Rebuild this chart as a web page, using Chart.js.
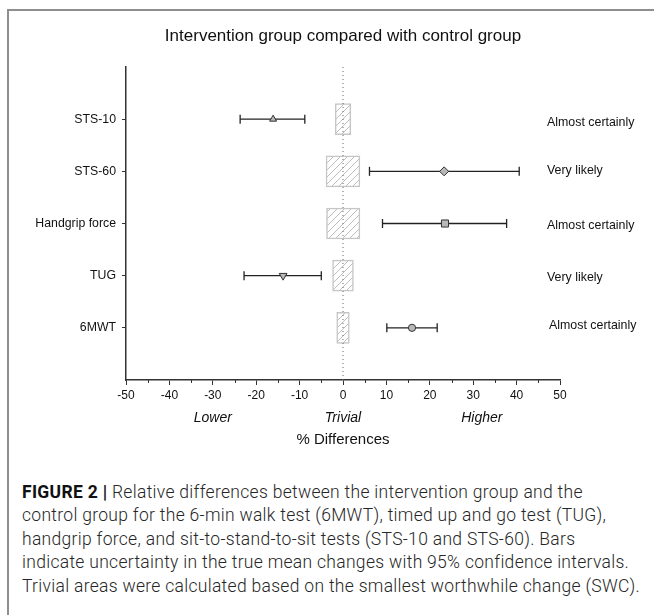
<!DOCTYPE html>
<html>
<head>
<meta charset="utf-8">
<script src="https://cdn.jsdelivr.net/npm/chart.js@4.4.0/dist/chart.umd.min.js"></script>
<style>
  html, body { margin: 0; padding: 0; background: #fff; }
  body { width: 654px; height: 615px; position: relative; overflow: hidden; }
  #frame { position: absolute; left: 7px; top: 9px; width: 700px; height: 700px;
           border-left: 2px solid #8e8e8e; border-top: 2px solid #8e8e8e; }
  #wrap { position: absolute; left: 0; top: 0; width: 654px; height: 460px; }
  #caption { position: absolute; left: 22px; top: 481px; width: 630px;
             font-family: Roboto, "Liberation Sans", sans-serif; font-weight: 300;
             font-size: 17.5px; letter-spacing: 0.3px; line-height: 23.4px; color: #262626; white-space: nowrap; }
  #caption b { font-weight: 700; color: #111; letter-spacing: 0.3px; }
</style>
</head>
<body>
<div id="frame"></div>
<div id="wrap"><canvas id="c" width="654" height="460"></canvas></div>
<div id="caption">
  <div><b>FIGURE 2 |</b> Relative differences between the intervention group and the</div>
  <div>control group for the 6-min walk test (6MWT), timed up and go test (TUG),</div>
  <div>handgrip force, and sit-to-stand-to-sit tests (STS-10 and STS-60). Bars</div>
  <div>indicate uncertainty in the true mean changes with 95% confidence intervals.</div>
  <div>Trivial areas were calculated based on the smallest worthwhile change (SWC).</div>
</div>
<script>
// ---- data ----
const rows = ['STS-10', 'STS-60', 'Handgrip force', 'TUG', '6MWT'];
const rowPos = [1, 2, 3, 4, 5];
const means = [-16.1, 23.3, 23.5, -13.8, 15.9];
const ciLow = [-23.7, 6.1, 9.1, -22.8, 10.1];
const ciHigh = [-8.8, 40.6, 37.7, -5.0, 21.7];
const trivialLow = [-1.8, -3.9, -3.8, -2.4, -1.45];
const trivialHigh = [1.8, 3.9, 3.9, 2.4, 1.45];
const inferences = ['Almost certainly', 'Very likely', 'Almost certainly', 'Very likely', 'Almost certainly'];
const xMin = -50, xMax = 50, xStep = 10, xMinorStep = 5;
const regionLabels = ['Lower', 'Trivial', 'Higher'];
const regionLabelAt = [-30, 0, 32];
const titleText = 'Intervention group compared with control group';
const xTitle = '% Differences';

// ---- styling / layout ----
const FONT = '"Liberation Sans", Arial, sans-serif';
const inferenceDx = [0, 0, 0, 0, 2];
const inferenceDy = [3, -1, 2, 2, -2];
function hatchPattern() {
  const c = document.createElement('canvas');
  c.width = 7; c.height = 7;
  const g = c.getContext('2d');
  g.fillStyle = '#ffffff'; g.fillRect(0, 0, 7, 7);
  g.strokeStyle = '#bdbdbd'; g.lineWidth = 1;
  g.beginPath();
  g.moveTo(0, 7); g.lineTo(7, 0);
  g.moveTo(-1, 1); g.lineTo(1, -1);
  g.moveTo(6, 8); g.lineTo(8, 6);
  g.stroke();
  return g.createPattern(c, 'repeat');
}

const markerStyle = ['triangle', 'rectRot', 'rect', 'triangle', 'circle'];
const markerRot = [0, 0, 0, 180, 0];
const markerRadius = [4, 4.5, 5, 4.5, 3.6];

const datasets = [];
// trivial areas (floating horizontal bars)
datasets.push({
  type: 'bar', indexAxis: 'y', order: 10,
  data: rowPos.map((p, i) => ({ y: p, x: [trivialLow[i], trivialHigh[i]] })),
  backgroundColor: hatchPattern(), borderColor: '#c6c6c6', borderWidth: 1.5,
  borderSkipped: false, barThickness: 31
});
// zero line
datasets.push({
  type: 'line', order: 8,
  data: [{ x: 0, y: 0 }, { x: 0, y: 6 }],
  borderColor: '#666', borderWidth: 1, borderDash: [1, 3], pointRadius: 0, fill: false
});
// confidence intervals
rowPos.forEach((p, i) => {
  datasets.push({
    type: 'line', order: 5,
    data: [{ x: ciLow[i], y: p }, { x: ciHigh[i], y: p }],
    borderColor: '#222', borderWidth: 1.3, fill: false,
    pointStyle: 'line', pointRotation: 90, pointRadius: 4.5,
    pointBorderColor: '#222', pointBorderWidth: 1.3
  });
});
// mean markers
datasets.push({
  type: 'scatter', order: 1,
  data: rowPos.map((p, i) => ({ x: means[i], y: p })),
  pointStyle: markerStyle, rotation: markerRot, pointRadius: markerRadius,
  backgroundColor: '#b8b8b8', borderColor: '#333', borderWidth: 1
});

const textPlugin = {
  id: 'texts',
  afterDraw(chart) {
    const ctx = chart.ctx, xs = chart.scales.x, ys = chart.scales.y, a = chart.chartArea;
    ctx.save();
    // minor ticks
    ctx.strokeStyle = '#333'; ctx.lineWidth = 1;
    ctx.beginPath();
    for (let v = xMin + xMinorStep; v < xMax; v += xStep) {
      const px = Math.round(xs.getPixelForValue(v)) + 0.5;
      ctx.moveTo(px, a.bottom); ctx.lineTo(px, a.bottom + 3);
    }
    ctx.stroke();
    ctx.fillStyle = '#111';
    ctx.textBaseline = 'middle';
    // title
    ctx.font = '17px ' + FONT; ctx.textAlign = 'center';
    ctx.fillText(titleText, (a.left + a.right) / 2, 36);
    // inference labels
    ctx.font = '12.4px ' + FONT; ctx.textAlign = 'left';
    rowPos.forEach((p, i) => ctx.fillText(inferences[i], 547 + inferenceDx[i], ys.getPixelForValue(p) + inferenceDy[i]));
    // region labels
    ctx.font = 'italic 14px ' + FONT; ctx.textAlign = 'center';
    regionLabels.forEach((t, i) => ctx.fillText(t, xs.getPixelForValue(regionLabelAt[i]), 418));
    ctx.font = '15px ' + FONT;
    ctx.fillText(xTitle, xs.getPixelForValue(0), 440);
    ctx.restore();
  }
};

new Chart(document.getElementById('c'), {
  type: 'scatter',
  data: { datasets },
  options: {
    responsive: false, animation: false,
    layout: { padding: { left: 0, right: 94, top: 67, bottom: 50 } },
    plugins: { legend: { display: false }, tooltip: { enabled: false }, title: { display: false } },
    scales: {
      x: {
        type: 'linear', min: xMin, max: xMax, offset: false,
        afterFit(s) { s.height = 30; },
        ticks: { stepSize: xStep, color: '#111', font: { family: FONT, size: 12 }, padding: 3, maxRotation: 0 },
        grid: { drawOnChartArea: false, drawTicks: true, tickLength: 5, tickColor: '#333', offset: false },
        border: { color: '#333', width: 1.5 }
      },
      y: {
        type: 'linear', min: 0, max: 6, reverse: true, offset: false,
        afterFit(s) { s.width = 126; },
        afterBuildTicks(s) { s.ticks = rowPos.map(v => ({ value: v })); },
        ticks: { color: '#111', font: { family: FONT, size: 12.3 }, padding: 6,
                 callback: (v) => rows[v - 1] },
        grid: { drawOnChartArea: false, drawTicks: true, tickLength: 4, tickColor: '#333', offset: false },
        border: { color: '#333', width: 1.5 }
      }
    }
  },
  plugins: [textPlugin]
});
</script>
</body>
</html>
